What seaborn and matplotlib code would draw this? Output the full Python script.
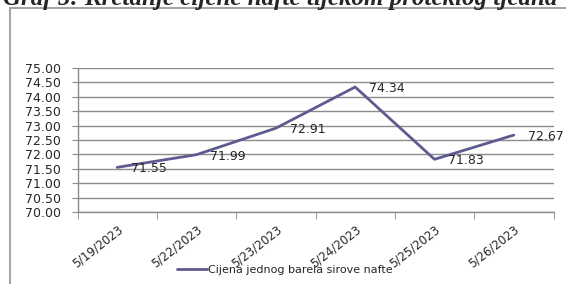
import matplotlib
matplotlib.use('Agg')
import matplotlib.pyplot as plt
import matplotlib.transforms as mtransforms
import seaborn as sns
import pandas as pd
from matplotlib.patches import Rectangle

# podaci - cijena barela sirove nafte
datumi = ['5/19/2023', '5/22/2023', '5/23/2023', '5/24/2023', '5/25/2023', '5/26/2023']
cijene = [71.55, 71.99, 72.91, 74.34, 71.83, 72.67]
y_ticks = [70.0, 70.5, 71.0, 71.5, 72.0, 72.5, 73.0, 73.5, 74.0, 74.5, 75.0]
naziv_serije = 'Cijena jednog barela sirove nafte'
naslov = 'Graf 5: Kretanje cijene nafte tijekom proteklog tjedna'

df = pd.DataFrame({'datum': datumi, 'cijena': cijene})

sns.set_style('white')
plt.rcParams['font.family'] = ['DejaVu Sans']

fig = plt.figure(figsize=(5.66, 2.84), dpi=100)
W, H = 566, 284

# okvir grafa (odrezan desno i dolje)
fig.patches.append(Rectangle((9.5 / W, -0.1), 1.2, 1 - 8.5 / H + 0.1,
                             transform=fig.transFigure, fill=False,
                             edgecolor='#a6a6a6', lw=1.5, zorder=0))

# naslov, gornji dio odrezan
fig.text(3 / W, 1 - 5.5 / H, naslov, fontsize=18, fontweight='bold', fontstyle='italic',
         family='Liberation Serif', va='baseline', ha='left')

ax = fig.add_axes([77.5 / W, 1 - 212 / H, 476 / W, 144 / H])
sns.lineplot(data=df, x='datum', y='cijena', ax=ax, color='#5e5b91', lw=2.0,
             label=naziv_serije, sort=False)

ax.set_xlim(-0.5, len(datumi) - 0.5)
ax.set_ylim(70, 75)
ax.set_yticks(y_ticks)
ax.set_yticklabels([f'{v:.2f}' for v in y_ticks], fontsize=9)
ax.set_xticks(range(len(datumi)))
ax.set_xticklabels(datumi, fontsize=8.5, rotation=38, ha='right', rotation_mode='anchor')
pomak = mtransforms.ScaledTranslation(-7 / 100, 0, fig.dpi_scale_trans)
for lbl in ax.get_xticklabels():
    lbl.set_transform(lbl.get_transform() + pomak)
ax.tick_params(axis='x', length=0, pad=8)
ax.tick_params(axis='y', length=4, color='#8c8c8c', pad=8, left=True)
ax.set_xticks([i - 0.5 for i in range(len(datumi) + 1)], minor=True)
ax.tick_params(axis='x', which='minor', length=5, color='#8c8c8c', bottom=True)
ax.set_xlabel('')
ax.set_ylabel('')

ax.grid(axis='y', color='#8c8c8c', lw=1)
for s in ['top', 'right']:
    ax.spines[s].set_visible(False)
for s in ['left', 'bottom']:
    ax.spines[s].set_color('#8c8c8c')
    ax.spines[s].set_linewidth(1)

# oznake vrijednosti
for i, v in enumerate(cijene):
    ax.annotate(f'{v:.2f}', (i, v), xytext=(10, -1), textcoords='offset points',
                ha='left', va='center', fontsize=9, annotation_clip=False)

ax.get_legend().remove()
h, l = ax.get_legend_handles_labels()
fig.legend(h, l, loc='center', bbox_to_anchor=(285 / W, 1 - 270 / H), frameon=False,
           fontsize=8, handlelength=2.7, handletextpad=0.1)

fig.savefig('out.png', dpi=100)
